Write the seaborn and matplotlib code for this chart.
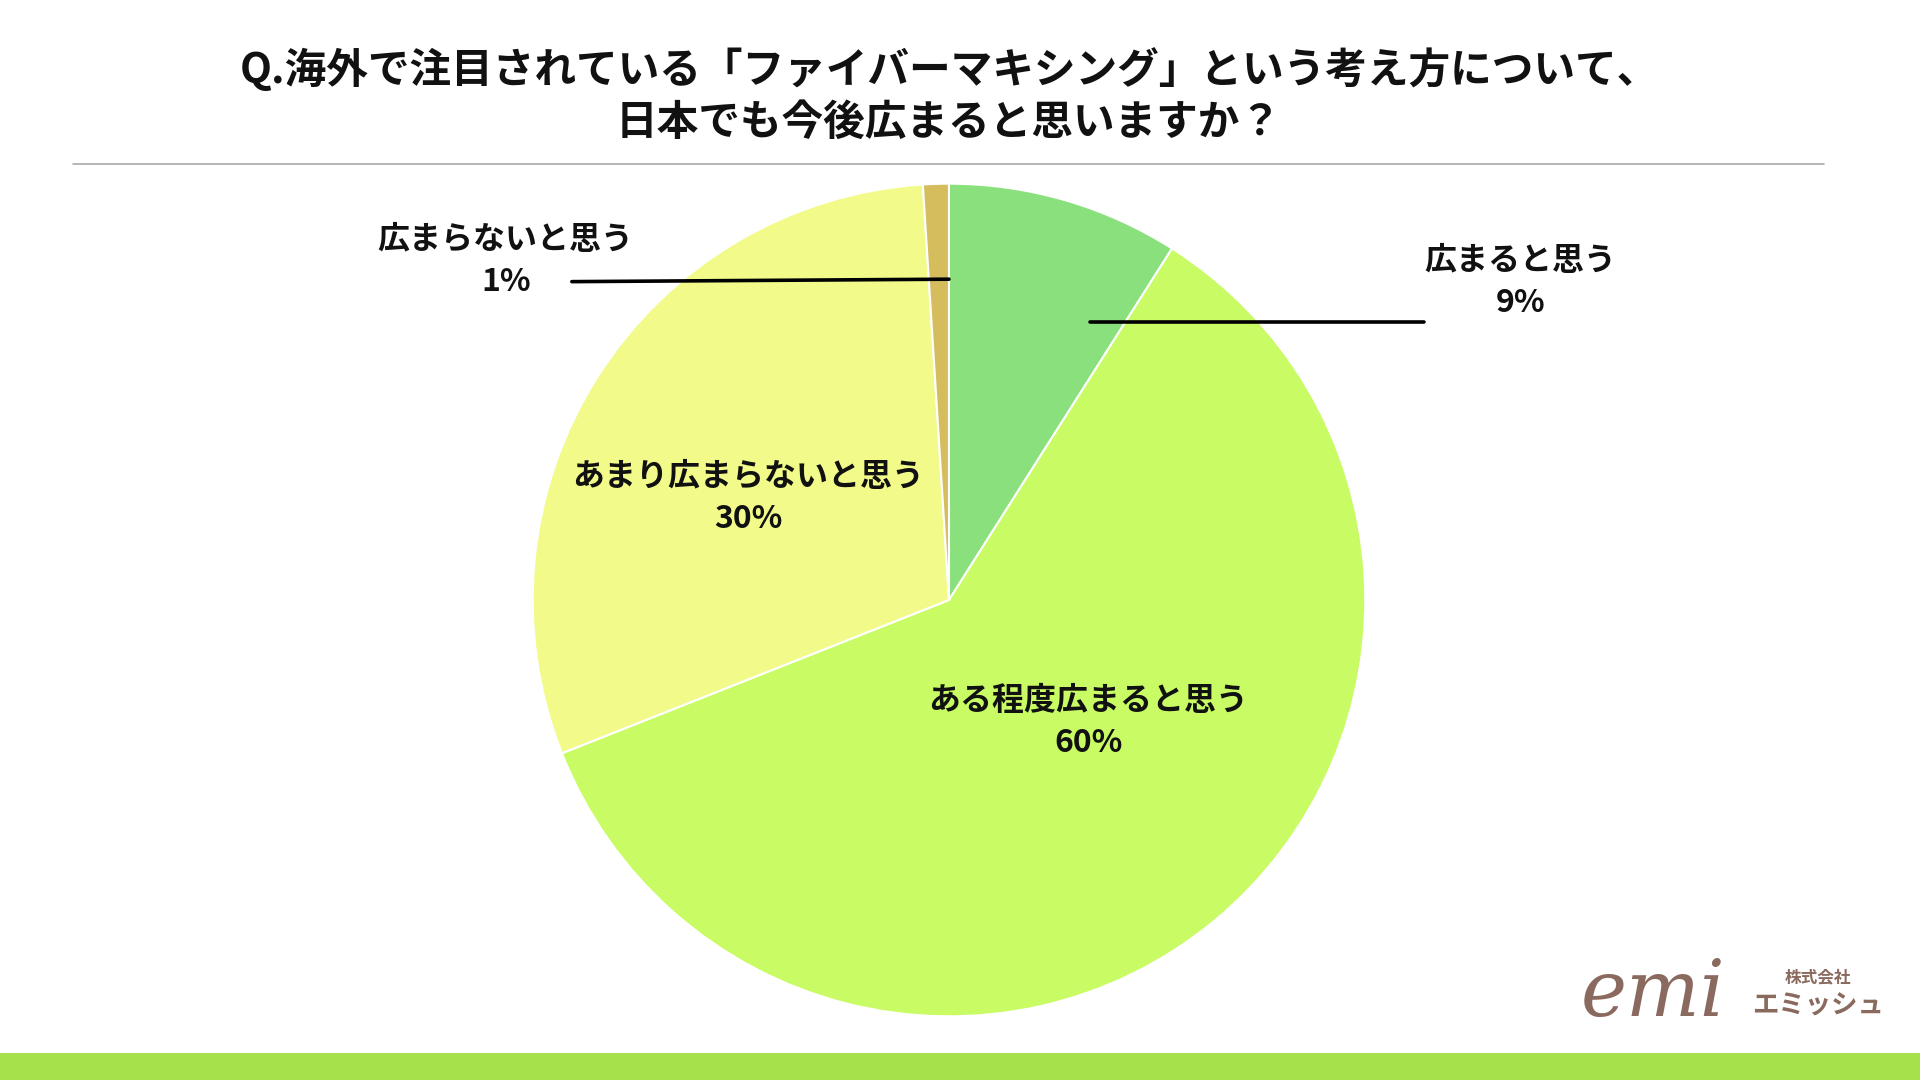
import matplotlib.pyplot as plt
import seaborn as sns

sns.set_theme(style="white")
plt.rcParams['font.family'] = ['Noto Sans CJK JP', 'DejaVu Sans']

# Data
categories = ['広まると思う', 'ある程度広まると思う', 'あまり広まらないと思う', '広まらないと思う']
values = [9, 60, 30, 1]
colors = ['#8ae07c', '#c8fb64', '#f2fb8a', '#d5bd5e']
title = 'Q.海外で注目されている「ファイバーマキシング」という考え方について、\n日本でも今後広まると思いますか？'

W, H = 1568, 882  # reference pixel frame
fig = plt.figure(figsize=(19.2, 10.8), dpi=100)

# overlay axes in reference pixel coordinates
ov = fig.add_axes([0, 0, 1, 1])
ov.set_xlim(0, W)
ov.set_ylim(H, 0)
ov.axis('off')

# pie axes
cx, cy, r = 775, 490, 340
pax = fig.add_axes([(cx - r) / W, 1 - (cy + r) / H, 2 * r / W, 2 * r / H])
pax.pie(values, colors=colors, startangle=90, counterclock=False,
        wedgeprops=dict(linewidth=1.5, edgecolor='white'))
pax.set_xlim(-1, 1)
pax.set_ylim(-1, 1)
pax.set_aspect('auto')
pax.set_zorder(0)
ov.set_zorder(1)

ov.text(775, 78, title, ha='center', va='center', fontsize=30, fontweight='bold',
        linespacing=1.3, color='#111111')
ov.plot([60, 1490], [134, 134], color='#aaaaaa', lw=1.2)

# labels
label_pos = [(1242, 230), (889, 590), (611, 407), (413, 213)]
for (x, y), c, v in zip(label_pos, categories, values):
    ov.text(x, y, f'{c}\n{v}%', ha='center', va='center', fontsize=23,
            fontweight='bold', linespacing=1.4, color='#111111')
ov.plot([890, 1163], [263, 263], color='black', lw=2.6)
ov.plot([467, 775], [230, 228], color='black', lw=2.6)

# bottom band
ov.fill_between([0, W], 860, 882, color='#a6e04a', lw=0)

# logo
ov.text(1350, 812, 'emi', ha='center', va='center', fontsize=56, color='#8a6a5e',
        fontstyle='italic', family='DejaVu Serif')
ov.text(1485, 798, '株式会社', ha='center', va='center', fontsize=12,
        fontweight='bold', color='#8a6a5e')
ov.text(1485, 822, 'エミッシュ', ha='center', va='center', fontsize=19,
        fontweight='bold', color='#8a6a5e')

fig.savefig('out.png', dpi=100, facecolor='white')
